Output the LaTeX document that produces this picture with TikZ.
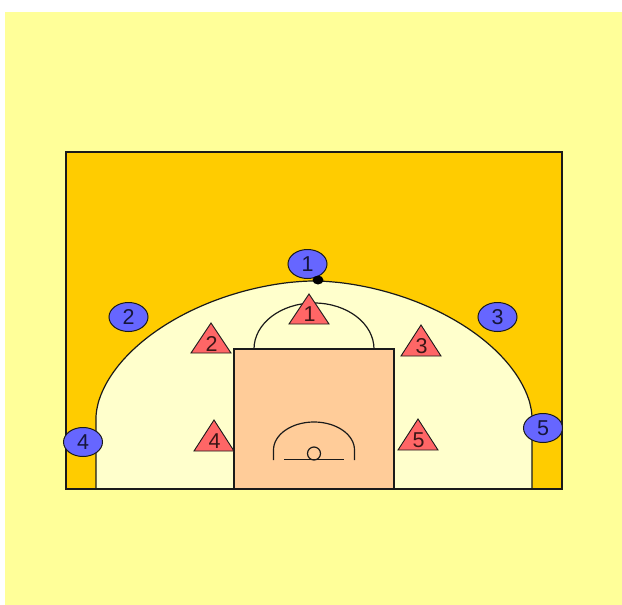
\documentclass[tikz,border=0pt]{standalone}
\usepackage{fontspec}
\setmainfont{Liberation Sans}
\usetikzlibrary{shapes.geometric}
\definecolor{bgyellow}{HTML}{FFFF99}
\definecolor{courtgold}{HTML}{FFCC00}
\definecolor{arcfill}{HTML}{FFFFCC}
\definecolor{paintfill}{HTML}{FFCC99}
\definecolor{offblue}{HTML}{6666FF}
\definecolor{defred}{HTML}{FF6666}
\definecolor{inkline}{HTML}{1A1A1A}
\tikzset{
  courtline/.style={draw=inkline,line width=1.2pt},
  offplayer/.style={ellipse,draw=inkline,line width=1pt,fill=offblue,minimum width=39pt,minimum height=29pt,inner sep=0pt,font=\fontsize{21.5}{22}\selectfont,text=inkline!85!blue},
  defshape/.style={draw=inkline,line width=0.9pt,fill=defred,line join=miter},
  deflabel/.style={inner sep=0pt,font=\fontsize{21.5}{22}\selectfont,text=inkline!85!red}
}
\newcommand{\deftri}[5]{% name, apex x, apex y, base y, label
  \draw[defshape] (#2,#3) -- (#2+20,#4) -- (#2-20,#4) -- cycle;
  \node[deflabel] (#1) at (#2+0.5,{#4-9.5}) {#5};
}
\begin{document}
\begin{tikzpicture}[x=1pt,y=-1pt]
\useasboundingbox (0,0) rectangle (622,605);
\fill[bgyellow] (5,12) rectangle (622,605);
% court
\fill[courtgold] (66,152) rectangle (562,489);
% three-point area
\path[courtline,fill=arcfill] (96,489)
  -- plot[domain=0.05:89.95,samples=90,variable=\t] ({314-218*pow(cos(\t),1.1111)},{418-137*pow(sin(\t),1.1111)})
  -- plot[domain=89.95:0.05,samples=90,variable=\t] ({314+218*pow(cos(\t),1.1111)},{418-137*pow(sin(\t),1.1111)})
  -- (532,489) -- cycle;
\draw[courtline] (66,152) rectangle (562,489);
% free-throw arc
\draw[courtline] (254,349) arc[start angle=180,end angle=0,x radius=60,y radius=-46];
% paint
\draw[courtline,fill=paintfill] (234,349) rectangle (394,489);
% restricted arc, baseline, hoop
\draw[courtline] (273.5,460) -- (273.5,450) arc[start angle=180,end angle=0,x radius=40.5,y radius=-28] -- (354.5,460);
\draw[courtline] (284,459.5) -- (344,459.5);
\draw[courtline] (314,453.5) circle[radius=6.5];
% offence
\node[offplayer] (o1) at (307.5,264) {1};
\node[offplayer] (o2) at (128.5,317) {2};
\node[offplayer] (o3) at (497.5,317) {3};
\node[offplayer] (o4) at (83,442) {4};
\node[offplayer] (o5) at (543,428) {5};
% ball
\fill[black] (318,280) ellipse[x radius=5.5,y radius=4.5];
% defence
\deftri{d1}{309}{294}{324}{1}
\deftri{d2}{211}{323}{353}{2}
\deftri{d3}{421}{325}{356}{3}
\deftri{d4}{214}{420}{451}{4}
\deftri{d5}{418}{419}{450}{5}
\end{tikzpicture}
\end{document}
